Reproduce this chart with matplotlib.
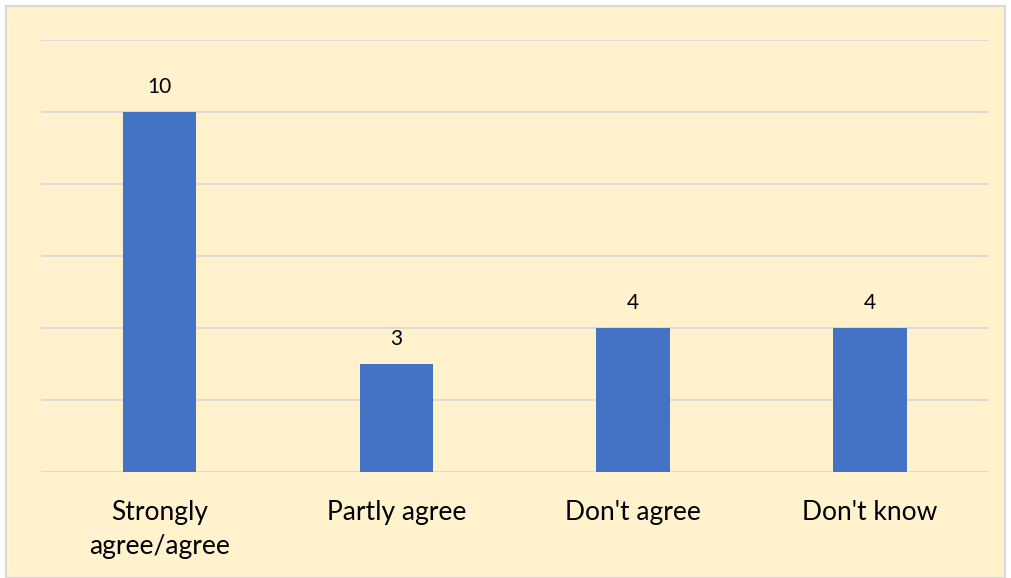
import matplotlib.pyplot as plt
from matplotlib.patches import Rectangle

categories = ['Strongly\nagree/agree', 'Partly agree', "Don't agree", "Don't know"]
counts = [10, 3, 4, 4]

plt.rcParams['font.family'] = ['Lato', 'DejaVu Sans']

fig = plt.figure(figsize=(10.11, 5.78), dpi=100)
fig.patch.set_facecolor('white')
# chart area with thin grey frame, kept behind the axes
fig.patches.append(Rectangle((6 / 1011, 0), 999 / 1011, 572 / 578, transform=fig.transFigure,
                             facecolor='#FFF2CC', edgecolor='#D9D9D9', linewidth=1.5, zorder=-1))

ax = fig.add_axes([41 / 1011, 106 / 578, 947.5 / 1011, 432 / 578])
ax.set_facecolor('none')
x = range(len(categories))
bars = ax.bar(x, counts, width=0.31, color='#4472C4', zorder=3)
ax.bar_label(bars, padding=11, fontsize=15)

ax.set_xlim(-0.5, len(categories) - 0.5)
ax.set_ylim(0, 12)
ax.set_yticks(range(0, 13, 2))
ax.yaxis.grid(True, color='#D9D9D9', linewidth=1.3)
ax.set_axisbelow(True)
ax.tick_params(left=False, labelleft=False, bottom=False)
ax.set_xticks(list(x))
ax.set_xticklabels(categories, fontsize=19, linespacing=1.45)
ax.tick_params(axis='x', pad=17)
for s in ax.spines.values():
    s.set_visible(False)

fig.savefig('out.png', dpi=100, facecolor=fig.get_facecolor())
